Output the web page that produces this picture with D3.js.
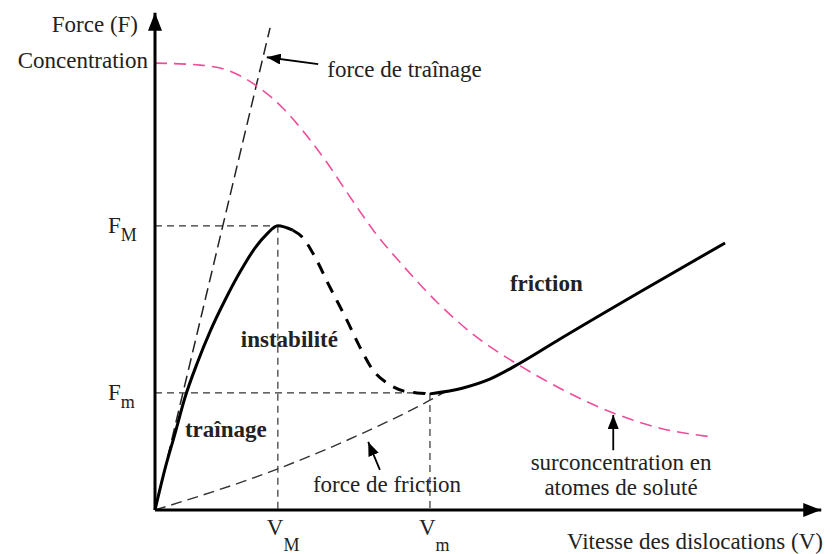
<!DOCTYPE html>
<html>
<head>
<meta charset="utf-8">
<script src="https://cdn.jsdelivr.net/npm/d3@7"></script>
<style>
  body { margin: 0; background: #fff; }
  text { font-family: "Liberation Serif", "Times New Roman", serif; fill: #222; }
</style>
</head>
<body>
<div id="chart"></div>
<script>
// axis extents (data units)
const vMax = 10.25;
const fMax = 10.15;

// characteristic values
const VM = 1.89, Vm = 4.23;
const FM = 5.80, Fm = 2.39;
const C0 = 9.12;

// solid curve, drag regime (V, F)
const dragCurve = [
    [0, 0], [0.15, 0.82], [0.31, 1.57], [0.46, 2.29], [0.65, 3.00],
    [0.85, 3.65], [1.08, 4.29], [1.31, 4.86], [1.54, 5.35], [1.72, 5.63],
    [1.89, 5.80], [2.12, 5.71]
];
// dashed unstable branch
const unstableCurve = [
    [2.12, 5.71], [2.28, 5.55], [2.43, 5.24], [2.69, 4.55], [2.95, 3.88],
    [3.15, 3.33], [3.35, 2.86], [3.57, 2.59], [3.82, 2.43], [4.03, 2.39], [4.23, 2.37]
];
// solid curve, friction regime
const frictionCurve = [
    [4.23, 2.37], [4.74, 2.49], [5.15, 2.67], [5.62, 3.00], [6.23, 3.49],
    [7.46, 4.45], [8.77, 5.45]
];
// solute concentration (pink)
const concCurve = [
    [0, 9.12], [0.69, 9.08], [1.15, 8.96], [1.57, 8.65], [1.97, 8.20],
    [2.28, 7.73], [2.65, 7.08], [3.00, 6.39], [3.38, 5.67], [3.82, 4.98],
    [4.34, 4.24], [4.85, 3.63], [5.62, 2.94], [6.28, 2.45], [7.05, 1.98],
    [7.77, 1.67], [8.57, 1.49]
];
// drag force line and friction force line
const dragLine = [[0, 0], [1.77, 9.84]];
const frictionLine = [[0, 0], [1.89, 0.84], [3.2, 1.57], [4.23, 2.24], [4.46, 2.41]];

// annotations: text, V, F, bold
const notes = [
    ['force de traînage', 2.65, 8.84, false],
    ['instabilité', 1.32, 3.33, true],
    ['traînage', 0.46, 1.49, true],
    ['friction', 5.46, 4.47, true],
    ['force de friction', 2.43, 0.37, false]
];
const noteArrows = [
    [[2.51, 9.10], [1.72, 9.24]],
    [[3.46, 0.82], [3.28, 1.39]],
    [[7.05, 1.22], [7.05, 1.94]]
];
const soluteLines = ['surconcentration en', 'atomes de soluté'];
const solutePos = [7.17, 0.82];

const width = 836;
const height = 554;

const svg = d3.select('#chart')
    .append('svg')
        .attr('width', width)
        .attr('height', height);

const x = d3.scaleLinear().domain([0, 10]).range([155, 805]);
const y = d3.scaleLinear().domain([0, 10]).range([510, 20]);

const defs = svg.append('defs');
const marker = (id, w, h) => defs.append('marker')
    .attr('id', id)
    .attr('viewBox', `0 0 ${w} ${h}`)
    .attr('refX', w).attr('refY', h / 2)
    .attr('markerWidth', w).attr('markerHeight', h)
    .attr('markerUnits', 'userSpaceOnUse')
    .attr('orient', 'auto')
    .append('path')
        .attr('d', `M0,0L${w},${h / 2}L0,${h}Z`)
        .attr('fill', '#000');
marker('axisHead', 18, 14);
marker('noteHead', 14, 11);

const line = d3.line().x(d => x(d[0])).y(d => y(d[1]));
const smooth = d3.line().curve(d3.curveMonotoneX).x(d => x(d[0])).y(d => y(d[1]));

// guide lines
const guides = [
    [[0, FM], [VM, FM]], [[VM, FM], [VM, 0]],
    [[0, Fm], [Vm, Fm]], [[Vm, Fm], [Vm, 0]]
];
svg.append('g')
    .selectAll('path')
    .data(guides)
    .join('path')
        .attr('d', line)
        .attr('fill', 'none')
        .attr('stroke', '#333')
        .attr('stroke-width', 1.2)
        .attr('stroke-dasharray', '7,5');

// drag + friction force lines
svg.append('path')
    .attr('d', line(dragLine))
    .attr('fill', 'none')
    .attr('stroke', '#222')
    .attr('stroke-width', 1.5)
    .attr('stroke-dasharray', '12,6');
svg.append('path')
    .attr('d', smooth(frictionLine))
    .attr('fill', 'none')
    .attr('stroke', '#333')
    .attr('stroke-width', 1.4)
    .attr('stroke-dasharray', '11,6');

// concentration
svg.append('path')
    .attr('d', smooth(concCurve))
    .attr('fill', 'none')
    .attr('stroke', '#ee4d99')
    .attr('stroke-width', 1.6)
    .attr('stroke-dasharray', '12,7');

// force-velocity curve
svg.append('path')
    .attr('d', smooth(dragCurve))
    .attr('fill', 'none')
    .attr('stroke', '#000')
    .attr('stroke-width', 3);
svg.append('path')
    .attr('d', smooth(unstableCurve))
    .attr('fill', 'none')
    .attr('stroke', '#000')
    .attr('stroke-width', 3)
    .attr('stroke-dasharray', '12,9');
svg.append('path')
    .attr('d', smooth(frictionCurve))
    .attr('fill', 'none')
    .attr('stroke', '#000')
    .attr('stroke-width', 3);

// axes
svg.append('path')
    .attr('d', line([[0, 0], [0, fMax]]))
    .attr('stroke', '#000')
    .attr('stroke-width', 3)
    .attr('marker-end', 'url(#axisHead)');
svg.append('path')
    .attr('d', line([[0, 0], [vMax, 0]]))
    .attr('stroke', '#000')
    .attr('stroke-width', 3)
    .attr('marker-end', 'url(#axisHead)');

// annotation arrows
svg.append('g')
    .selectAll('path')
    .data(noteArrows)
    .join('path')
        .attr('d', line)
        .attr('stroke', '#000')
        .attr('stroke-width', 1.8)
        .attr('marker-end', 'url(#noteHead)');

const fs = '23px';

// axis titles
svg.append('text')
    .attr('x', x(0) - 17).attr('y', y(fMax) + 19)
    .attr('text-anchor', 'end')
    .style('font-size', fs)
    .text('Force (F)');
svg.append('text')
    .attr('x', x(0) - 7).attr('y', y(C0) + 5)
    .attr('text-anchor', 'end')
    .style('font-size', fs)
    .text('Concentration');
svg.append('text')
    .attr('x', 823).attr('y', 549)
    .attr('text-anchor', 'end')
    .style('font-size', fs)
    .text('Vitesse des dislocations (V)');

// F ticks
[[FM, 'M'], [Fm, 'm']].forEach(([v, s]) => {
    const t = svg.append('text')
        .attr('x', x(0) - 47).attr('y', y(v) + 7)
        .style('font-size', fs);
    t.append('tspan').text('F');
    t.append('tspan').attr('dy', 8).style('font-size', '18px').text(s);
});
// V ticks
[[VM, 'M'], [Vm, 'm']].forEach(([v, s]) => {
    const t = svg.append('text')
        .attr('x', x(v) - 11).attr('y', y(0) + 25)
        .style('font-size', fs);
    t.append('tspan').text('V');
    t.append('tspan').attr('dy', 16).style('font-size', '18px').text(s);
});

// region / curve labels
svg.append('g')
    .selectAll('text')
    .data(notes)
    .join('text')
        .attr('x', d => x(d[1]))
        .attr('y', d => y(d[2]))
        .style('font-size', fs)
        .style('font-weight', d => d[3] ? 'bold' : 'normal')
        .text(d => d[0]);

svg.append('g')
    .selectAll('text')
    .data(soluteLines)
    .join('text')
        .attr('x', x(solutePos[0]))
        .attr('y', (d, i) => y(solutePos[1]) + i * 25)
        .attr('text-anchor', 'middle')
        .style('font-size', fs)
        .text(d => d);
</script>
</body>
</html>
